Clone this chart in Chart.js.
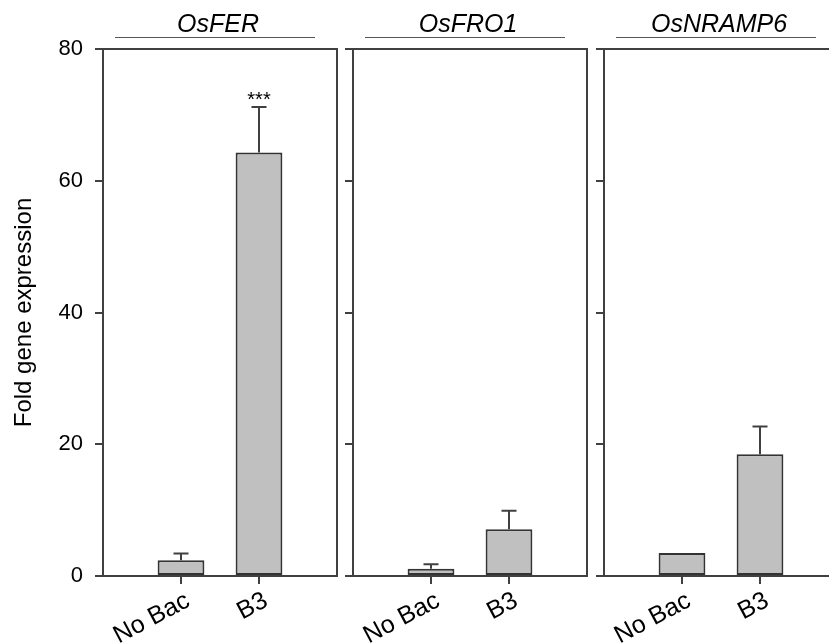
<!DOCTYPE html>
<html>
<head>
<meta charset="utf-8">
<script src="https://cdn.jsdelivr.net/npm/chart.js@4.4.1/dist/chart.umd.min.js"></script>
<style>
  html, body { margin: 0; padding: 0; background: #fff; overflow: hidden; width: 829px; height: 644px; }
  canvas { position: absolute; top: 0; }
</style>
</head>
<body>
<canvas id="panel0"></canvas>
<canvas id="panel1"></canvas>
<canvas id="panel2"></canvas>
<script>
// Gene panels and treatments
const genes = ['OsFER', 'OsFRO1', 'OsNRAMP6'];
const treatments = ['No Bac', 'B3'];

// Mean fold expression and standard error, one entry per gene
const noBacMean = [2.4, 1.1, 3.5];
const noBacErr  = [1.0, 0.7, 0];
const b3Mean    = [64.3, 7.1, 18.5];
const b3Err     = [6.9, 2.8, 4.2];

// Significance mark over the B3 bar of each gene
const b3Significance = ['***', '', ''];

// Shared y-axis ticks
const yTicks = [0, 20, 40, 60, 80];
const yTitle = 'Fold gene expression';

const FONT = 'Arial, "Liberation Sans", Helvetica, sans-serif';
const LINE = '#404040';
const BAR_FILL = '#c0c0c0';

// Canvas geometry per panel: left edge of canvas, its width, width of the y-axis box
const panelLayout = [
  { left: 0,   width: 345, yWidth: 103 },
  { left: 343, width: 252, yWidth: 10 },
  { left: 594, width: 252, yWidth: 10 }
];
const CANVAS_H = 644;
const TOP_PAD = 49;
const X_AXIS_H = 68;
const RIGHT_PAD = 8;

// Error bars (and significance stars) above each bar
const errorBars = {
  id: 'errorBars',
  afterDatasetsDraw(chart, args, opts) {
    const ctx = chart.ctx;
    const yScale = chart.scales.y;
    const meta = chart.getDatasetMeta(0);
    const ds = chart.data.datasets[0];
    ctx.save();
    ctx.strokeStyle = LINE;
    ctx.lineWidth = 2;
    meta.data.forEach((el, i) => {
      const v = ds.data[i];
      const e = opts.errors[i];
      if (v == null) return;
      let top = el.y;
      if (e) {
        top = yScale.getPixelForValue(v + e);
        ctx.beginPath();
        ctx.moveTo(el.x, el.y);
        ctx.lineTo(el.x, top);
        ctx.moveTo(el.x - 7.5, top);
        ctx.lineTo(el.x + 7.5, top);
        ctx.stroke();
      }
      const mark = opts.marks[i];
      if (mark) {
        ctx.fillStyle = '#000';
        ctx.font = '20px ' + FONT;
        ctx.textAlign = 'center';
        ctx.textBaseline = 'alphabetic';
        ctx.fillText(mark, el.x, top - 0.5);
      }
    });
    ctx.restore();
  }
};

// Box around the plot area and the italic gene name with its rule above
const panelFrame = {
  id: 'panelFrame',
  afterDraw(chart, args, opts) {
    const ctx = chart.ctx;
    const a = chart.chartArea;
    ctx.save();
    ctx.strokeStyle = LINE;
    ctx.lineWidth = 2;
    ctx.beginPath();
    ctx.moveTo(a.left, a.bottom);
    ctx.lineTo(a.left, a.top);
    ctx.lineTo(a.right, a.top);
    ctx.lineTo(a.right, a.bottom);
    ctx.stroke();

    const cx = (a.left + a.right) / 2;
    ctx.fillStyle = '#000';
    ctx.font = 'italic 25px ' + FONT;
    ctx.textAlign = 'center';
    ctx.textBaseline = 'alphabetic';
    ctx.fillText(opts.gene, cx - 2, 32);

    ctx.strokeStyle = '#555';
    ctx.lineWidth = 1.2;
    ctx.beginPath();
    ctx.moveTo(cx - 105, 37.5);
    ctx.lineTo(cx + 95, 37.5);
    ctx.stroke();
    ctx.restore();
  }
};

const xLabels = ['', ...treatments, ''];

genes.forEach((gene, p) => {
  const geo = panelLayout[p];
  const canvas = document.getElementById('panel' + p);
  canvas.width = geo.width;
  canvas.height = CANVAS_H;
  canvas.style.left = geo.left + 'px';
  canvas.style.width = geo.width + 'px';
  canvas.style.height = CANVAS_H + 'px';

  const values = [null, noBacMean[p], b3Mean[p], null];
  const errors = [null, noBacErr[p], b3Err[p], null];
  const marks = ['', '', b3Significance[p], ''];
  const first = p === 0;

  new Chart(canvas, {
    type: 'bar',
    data: {
      labels: xLabels,
      datasets: [{
        data: values,
        backgroundColor: BAR_FILL,
        borderColor: '#333',
        borderWidth: 2,
        borderSkipped: false,
        categoryPercentage: 1,
        barPercentage: 0.6
      }]
    },
    options: {
      responsive: false,
      animation: false,
      devicePixelRatio: 1,
      layout: { padding: { top: TOP_PAD, right: RIGHT_PAD, left: 0, bottom: 0 } },
      plugins: {
        legend: { display: false },
        tooltip: { enabled: false },
        title: { display: false },
        errorBars: { errors, marks },
        panelFrame: { gene }
      },
      scales: {
        x: {
          type: 'category',
          offset: false,
          border: { display: true, color: LINE, width: 2 },
          grid: {
            display: true,
            offset: false,
            drawOnChartArea: false,
            drawTicks: true,
            tickLength: 8,
            lineWidth: 2,
            color: LINE,
            tickColor: (c) => (c.index === 0 || c.index === xLabels.length - 1) ? 'rgba(0,0,0,0)' : LINE
          },
          ticks: {
            autoSkip: false,
            minRotation: 28,
            maxRotation: 28,
            padding: 2,
            labelOffset: 7,
            color: '#000',
            font: { family: FONT, size: 25 }
          },
          afterFit: (s) => { s.height = X_AXIS_H; s.paddingLeft = 0; s.paddingRight = 0; }
        },
        y: {
          min: yTicks[0],
          max: yTicks[yTicks.length - 1],
          border: { display: true, color: LINE, width: 2 },
          grid: {
            display: true,
            drawOnChartArea: false,
            drawTicks: true,
            tickLength: 8,
            lineWidth: 2,
            color: LINE
          },
          ticks: {
            display: first,
            stepSize: yTicks[1] - yTicks[0],
            padding: 12,
            color: '#000',
            font: { family: FONT, size: 22 }
          },
          title: {
            display: first,
            text: yTitle,
            color: '#000',
            font: { family: FONT, size: 24 },
            padding: { top: 10, bottom: 0 }
          },
          afterFit: (s) => { s.width = geo.yWidth; s.paddingTop = 0; s.paddingBottom = 0; }
        }
      }
    },
    plugins: [errorBars, panelFrame]
  });
});
</script>
</body>
</html>
